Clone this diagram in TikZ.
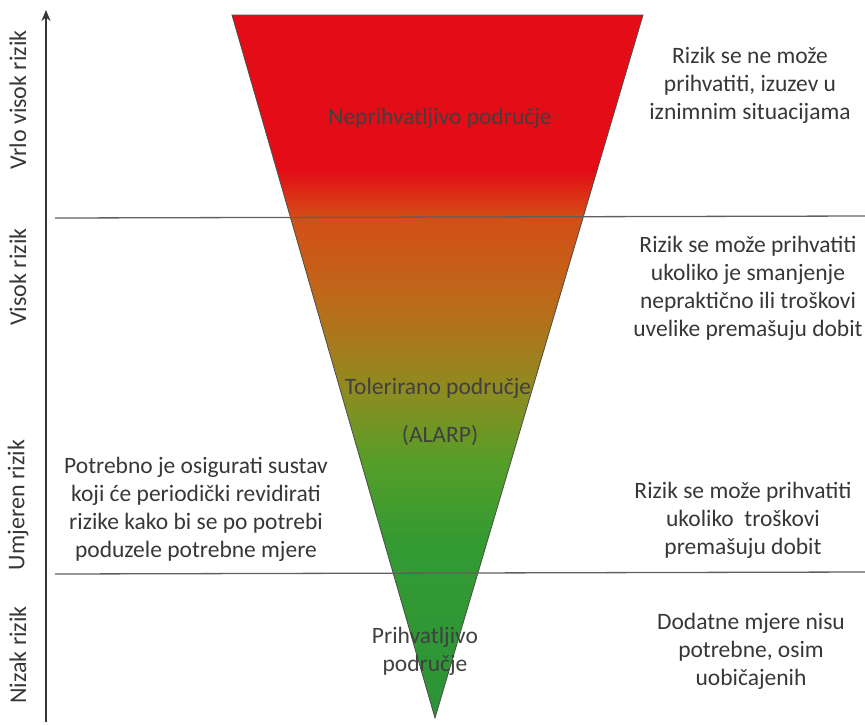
\documentclass[tikz,border=0pt]{standalone}
\usepackage{fontspec}
\setmainfont{Carlito}
\usetikzlibrary{arrows.meta}
\definecolor{riskred}{RGB}{228,12,22}
\definecolor{riskorange}{RGB}{212,78,22}
\definecolor{riskbrown}{RGB}{188,106,26}
\definecolor{riskolive}{RGB}{142,140,32}
\definecolor{risklime}{RGB}{86,158,40}
\definecolor{riskgreen}{RGB}{52,154,50}
\definecolor{riskdeep}{RGB}{44,148,56}
\definecolor{inktext}{RGB}{55,55,55}
\definecolor{rulegray}{RGB}{95,95,95}
\pgfdeclareverticalshading{riskfade}{100bp}{color(0bp)=(riskdeep); color(25bp)=(riskdeep);
  color(37.7bp)=(riskgreen); color(43.3bp)=(risklime); color(48.3bp)=(riskolive);
  color(54.7bp)=(riskbrown); color(60.6bp)=(riskorange); color(64bp)=(riskred);
  color(75bp)=(riskred); color(100bp)=(riskred)}
\begin{document}
\begin{tikzpicture}[x=1pt,y=-1pt,
    note/.style={align=center,text=inktext,font=\fontsize{23.5}{28}\selectfont},
    zone/.style={align=center,text=black!75,font=\fontsize{23.5}{28}\selectfont},
    level/.style={rotate=90,text=inktext,font=\fontsize{24}{26}\selectfont},
    divider/.style={draw=rulegray,line width=1.3pt}]
    \useasboundingbox (0,0) rectangle (865,724);
    % funnel
    \coordinate (tl) at (232,15);
    \coordinate (tr) at (643,15);
    \coordinate (tip) at (435,718);
    \shade[shading=riskfade,draw=black!70,line width=0.8pt] (tl) -- (tr) -- (tip) -- cycle;
    % axis
    \coordinate (axisbot) at (46,722);
    \coordinate (axistop) at (46,10);
    \draw[draw=inktext,line width=1.6pt,-{Stealth[length=11pt,width=9pt]}] (axisbot) -- (axistop);
    % dividers
    \coordinate (d1l) at (55,218);
    \coordinate (d1r) at (865,216);
    \coordinate (d2l) at (55,574);
    \coordinate (d2r) at (865,572);
    \draw[divider] (d1l) -- (d1r);
    \draw[divider] (d2l) -- (d2r);
    % levels
    \node (vvisok) at (18,100) [level] {Vrlo visok rizik};
    \node (visok) at (18,277) [level] {Visok rizik};
    \node (umjeren) at (18,505) [level] {Umjeren rizik};
    \node (nizak) at (18,655) [level] {Nizak rizik};
    % zones
    \node (nepr) at (440,118) [zone] {Neprihvatljivo područje};
    \node (toler) at (438,388) [zone] {Tolerirano područje};
    \node (alarp) at (440,436) [zone] {(ALARP)};
    \node (prihv) at (425,651) [zone] {Prihvatljivo\\područje};
    % notes
    \node (n1) at (750,85) [note] {Rizik se ne može\\prihvatiti, izuzev u\\iznimnim situacijama};
    \node (n2) at (748,288) [note] {Rizik se može prihvatiti\\ukoliko je smanjenje\\nepraktično ili troškovi\\uvelike premašuju dobit};
    \node (n3) at (743,520) [note] {Rizik se može prihvatiti\\ukoliko\ \ troškovi\\premašuju dobit};
    \node (n4) at (751,651) [note] {Dodatne mjere nisu\\potrebne, osim\\uobičajenih};
    \node (n5) at (196,509) [note] {Potrebno je osigurati sustav\\koji će periodički revidirati\\rizike kako bi se po potrebi\\poduzele potrebne mjere};
\end{tikzpicture}
\end{document}
